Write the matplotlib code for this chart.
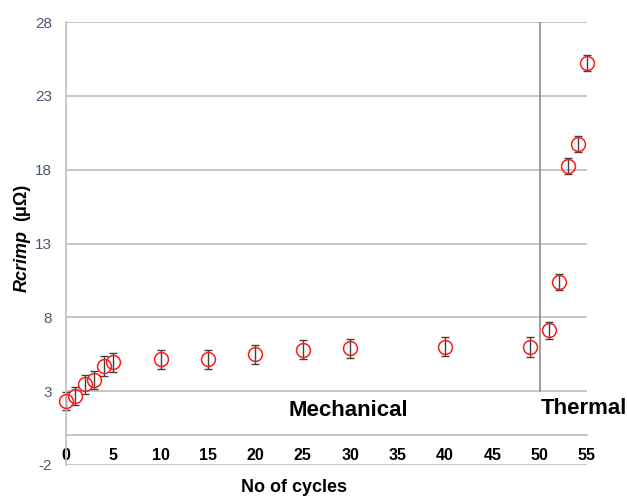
import matplotlib
matplotlib.use("Agg")
import matplotlib.pyplot as plt

plt.rcParams['font.family'] = ['Liberation Sans', 'DejaVu Sans']

cycles = [0, 1, 2, 3, 4, 5, 10, 15, 20, 25, 30, 40, 49, 51, 52, 53, 54, 55]
rcrimp = [2.35, 2.67, 3.46, 3.77, 4.70, 4.95, 5.17, 5.15, 5.49, 5.80, 5.90, 6.00, 6.00,
          7.11, 10.40, 18.25, 19.72, 25.22]
errors = [0.62, 0.6, 0.62, 0.62, 0.65, 0.65, 0.65, 0.65, 0.65, 0.65, 0.65, 0.65, 0.66,
          0.56, 0.55, 0.54, 0.54, 0.53]
yticks = [-2, 3, 8, 13, 18, 23, 28]
xticks = [0, 5, 10, 15, 20, 25, 30, 35, 40, 45, 50, 55]
phase_boundary = 50

W, H = 627, 497
fig = plt.figure(figsize=(W / 100, H / 100), dpi=100)
ax = fig.add_axes([66 / W, (H - 465) / H, (587 - 66) / W, (465 - 22) / H])

ax.set_xlim(0, 55)
ax.set_ylim(-2, 28)

grid_c = '#BEBEBE'
for y in yticks:
    ax.axhline(y, color=grid_c, lw=1.2, zorder=0)

ax.errorbar(cycles, rcrimp, yerr=errors, fmt='none', ecolor='#404040',
            elinewidth=1.0, capsize=3, capthick=1.0, zorder=2, clip_on=False)
ax.plot(cycles, rcrimp, 'o', ms=10, mfc='none', mec='#FF1A1A', mew=1.1, zorder=3,
        clip_on=False)

ax.plot([phase_boundary, phase_boundary], [3, 28], color='#8C8C8C', lw=1.2, zorder=1)

for s in ['top', 'right']:
    ax.spines[s].set_visible(False)
ax.spines['left'].set_color(grid_c)
ax.spines['left'].set_linewidth(1.2)
ax.spines['bottom'].set_position(('data', 0))
ax.spines['bottom'].set_color(grid_c)
ax.spines['bottom'].set_linewidth(1.2)

ax.set_yticks(yticks)
ax.set_yticklabels([str(v) for v in yticks], fontsize=11, color='#4A5670')
ax.set_xticks(xticks)
ax.set_xticklabels([str(v) for v in xticks], fontsize=11.5, fontweight='bold', color='black')
ax.tick_params(axis='y', length=0, pad=10)
ax.tick_params(axis='x', length=0, pad=9)


def fx(x):
    return x / W


def fy(y):
    return (H - y) / H


fig.text(fx(348), fy(410), 'Mechanical', fontsize=16, fontweight='bold',
         ha='center', va='center')
fig.text(fx(584), fy(408), 'Thermal', fontsize=16, fontweight='bold',
         ha='center', va='center')

fig.text(fx(294), fy(488), 'No of cycles', fontsize=13, fontweight='bold',
         ha='center', va='center')
fig.text(fx(22), fy(261), 'Rcrimp', fontsize=13, fontweight='bold', fontstyle='italic',
         rotation=90, ha='center', va='center')
fig.text(fx(22), fy(202), '(μΩ)', fontsize=13, fontweight='bold',
         rotation=90, ha='center', va='center')

fig.savefig('out.png', dpi=100, facecolor='white')
